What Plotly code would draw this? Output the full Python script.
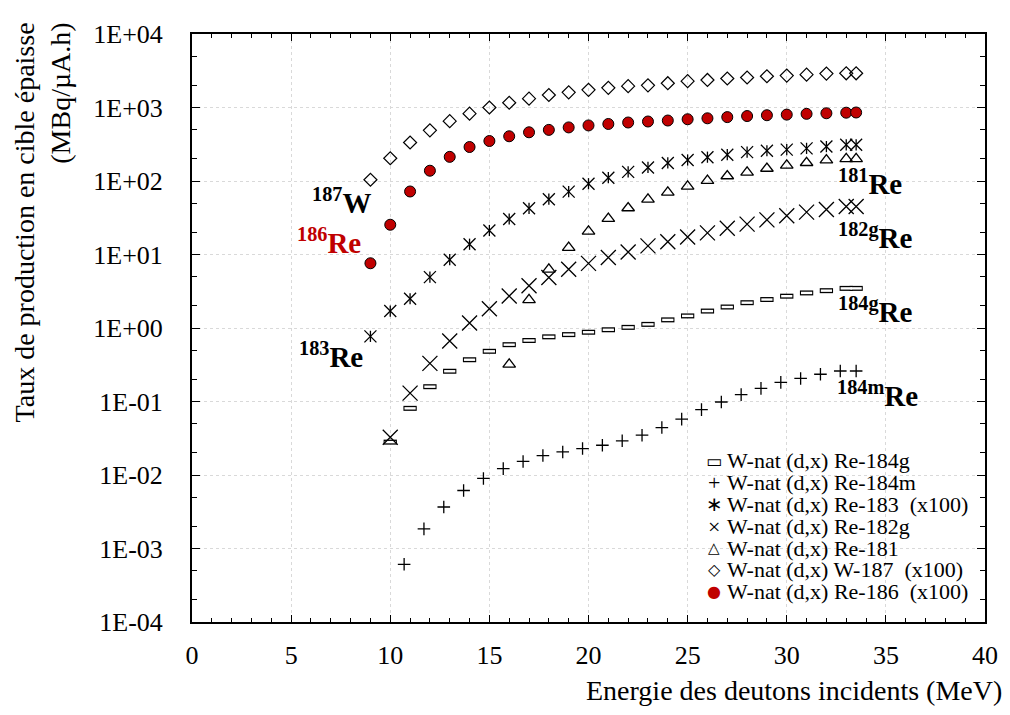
import plotly.graph_objects as go

# ---------------- data ----------------
energy = [9, 10, 11, 12, 13, 14, 15, 16, 17, 18, 19, 20, 21, 22, 23, 24, 25,
          26, 27, 28, 29, 30, 31, 32, 33, 33.5]
energy_from10 = energy[1:]
energy_from16 = energy[7:]
energy_184m = [10.7, 11.7, 12.7, 13.7, 14.7, 15.7, 16.7, 17.7, 18.7, 19.7, 20.7,
               21.7, 22.7, 23.7, 24.7, 25.7, 26.7, 27.7, 28.7, 29.7, 30.7, 31.7,
               32.7, 33.5]

re184g = [0.028, 0.0807, 0.159, 0.258, 0.370, 0.482, 0.593, 0.676, 0.758, 0.813,
          0.876, 0.946, 1.02, 1.12, 1.29, 1.46, 1.70, 1.93, 2.21, 2.44, 2.71,
          3.00, 3.22, 3.46, 3.46]
re184m = [0.00061, 0.00185, 0.00367, 0.00615, 0.00898, 0.0122, 0.0153, 0.0184,
          0.0206, 0.0229, 0.0254, 0.0292, 0.0348, 0.0442, 0.0575, 0.0776, 0.0984,
          0.124, 0.151, 0.182, 0.206, 0.235, 0.260, 0.260]
re183_x100 = [0.77, 1.70, 2.50, 4.92, 8.5, 13.8, 21.2, 30.4, 42.5, 56.6, 71.7,
              91.8, 111, 133, 153, 176, 193, 211, 228, 247, 258, 267, 278, 294,
              311, 311]
re182g = [0.0327, 0.130, 0.330, 0.666, 1.17, 1.83, 2.72, 3.76, 4.86, 6.29, 7.57,
          9.10, 10.8, 13.1, 14.9, 17.3, 19.7, 22.7, 25.9, 29.6, 33.7, 37.7, 40.9,
          44.9, 44.9]
re181 = [0.32, 2.41, 6.29, 12.4, 20.7, 30.8, 42.9, 56.2, 70.2, 84.4, 101, 117,
         131, 148, 163, 177, 192, 200, 200]
w187_x100 = [104, 204, 334, 489, 651, 825, 1000, 1160, 1320, 1480, 1610, 1740,
             1850, 1950, 2000, 2140, 2280, 2370, 2480, 2560, 2660, 2720, 2800,
             2890, 2920, 2920]
re186_x100 = [7.6, 25.4, 72, 138, 213, 290, 350, 406, 460, 496, 536, 570, 597,
              625, 645, 665, 692, 713, 740, 765, 785, 800, 820, 835, 850, 855]

y_tick_vals = [1e-4, 1e-3, 1e-2, 1e-1, 1e0, 1e1, 1e2, 1e3, 1e4]
y_tick_text = ["1E-04", "1E-03", "1E-02", "1E-01", "1E+00", "1E+01", "1E+02",
               "1E+03", "1E+04"]

legend_names = ["W-nat (d,x) Re-184g",
                "W-nat (d,x) Re-184m",
                "W-nat (d,x) Re-183 \u00a0(x100)",
                "W-nat (d,x) Re-182g",
                "W-nat (d,x) Re-181",
                "W-nat (d,x) W-187 \u00a0(x100)",
                "W-nat (d,x) Re-186 \u00a0(x100)"]
legend_glyphs = ["\u25ad", "+", "\u2217", "\u00d7", "\u25b3", "\u25c7", "\u25cf"]

RED = "#C00000"
FONT = "Liberation Serif, Times New Roman, serif"
SYMFONT = "DejaVu Sans"

fig = go.Figure()

# Re-184g : outlined horizontal bar (black bar + white core)
fig.add_trace(go.Scatter(x=energy_from10, y=re184g, mode="markers",
                         name=legend_names[0],
                         marker=dict(symbol="line-ew", size=9.5,
                                     line=dict(width=5, color="black"))))
fig.add_trace(go.Scatter(x=energy_from10, y=re184g, mode="markers",
                         hoverinfo="skip",
                         marker=dict(symbol="line-ew", size=8,
                                     line=dict(width=2.4, color="white"))))
# Re-184m : thin plus
fig.add_trace(go.Scatter(x=energy_184m, y=re184m, mode="markers",
                         name=legend_names[1],
                         marker=dict(symbol="cross-thin", size=9,
                                     line=dict(width=1.3, color="black"))))
# Re-183 : X + vertical stroke (asterisk)
fig.add_trace(go.Scatter(x=energy, y=re183_x100, mode="markers",
                         name=legend_names[2],
                         marker=dict(symbol="x-thin", size=12,
                                     line=dict(width=1.3, color="black"))))
fig.add_trace(go.Scatter(x=energy, y=re183_x100, mode="markers",
                         hoverinfo="skip",
                         marker=dict(symbol="line-ns", size=8,
                                     line=dict(width=1.3, color="black"))))
# Re-182g : thin X
fig.add_trace(go.Scatter(x=energy_from10, y=re182g, mode="markers",
                         name=legend_names[3],
                         marker=dict(symbol="x-thin", size=15,
                                     line=dict(width=1.3, color="black"))))
# Re-181 : open triangle
fig.add_trace(go.Scatter(x=energy_from16, y=re181, mode="markers",
                         name=legend_names[4],
                         marker=dict(symbol="triangle-up-open", size=11,
                                     color="black", line=dict(width=1.3))))
# W-187 : open diamond
fig.add_trace(go.Scatter(x=energy, y=w187_x100, mode="markers",
                         name=legend_names[5],
                         marker=dict(symbol="diamond-open", size=10,
                                     color="black", line=dict(width=1.2))))
# Re-186 : red filled circle
fig.add_trace(go.Scatter(x=energy, y=re186_x100, mode="markers",
                         name=legend_names[6],
                         marker=dict(symbol="circle", size=11, color=RED,
                                     line=dict(width=1, color="black"))))

# ---------------- geometry of plot area (page pixels) ----------------
OFF = 8                       # page body margin
L, T, W, H = 192, 24, 794, 598
FIG_W, FIG_H = 1010 - OFF, 715 - OFF


def px(xp, yp):
    return (xp - L) / W, (T + H - yp) / H


labels = [
    ("<b><sup>187</sup>W</b>", 310, 194, "black"),
    ("<b><sup>186</sup>Re</b>", 295, 235, RED),
    ("<b><sup>183</sup>Re</b>", 297, 350, "black"),
    ("<b><sup>181</sup>Re</b>", 837, 175, "black"),
    ("<b><sup>182g</sup>Re</b>", 837, 229, "black"),
    ("<b><sup>184g</sup>Re</b>", 837, 305, "black"),
    ("<b><sup>184m</sup>Re</b>", 836, 390, "black"),
]
for txt, x0, y0, col in labels:
    xp, yp = px(x0, y0)
    fig.add_annotation(text=txt, x=xp, y=yp, xref="paper", yref="paper",
                       xanchor="left", yanchor="middle", showarrow=False,
                       font=dict(family=FONT, size=29, color=col))

# ---------------- legend (text + symbol glyphs) ----------------
leg_top, leg_step = 458, 22.2
glyph_sizes = [17, 22, 20, 22, 15, 16, 16]
glyph_fonts = [SYMFONT, FONT, SYMFONT, FONT, SYMFONT, SYMFONT, SYMFONT]
glyph_cols = ["black"] * 6 + [RED]
for i, name in enumerate(legend_names):
    yrow = leg_top + i * leg_step
    xp, yp = px(726, yrow)
    fig.add_annotation(text=name, x=xp, y=yp, xref="paper", yref="paper",
                       xanchor="left", yanchor="middle", showarrow=False,
                       font=dict(family=FONT, size=22, color="black"))
    xp, yp = px(715, yrow)
    fig.add_annotation(text=legend_glyphs[i], x=xp, y=yp, xref="paper",
                       yref="paper", xanchor="center", yanchor="middle",
                       showarrow=False,
                       font=dict(family=glyph_fonts[i], size=glyph_sizes[i],
                                 color=glyph_cols[i]))

# axis titles
xp, yp = px(1005, 692)
fig.add_annotation(text="Energie des deutons incidents (MeV)", x=xp, y=yp,
                   xref="paper", yref="paper", xanchor="right", yanchor="middle",
                   showarrow=False, font=dict(family=FONT, size=28, color="black"))
xp, yp = px(42, 10)
fig.add_annotation(text="Taux de production en cible épaisse<br>(MBq/µA.h)",
                   x=xp, y=yp, xref="paper", yref="paper", xanchor="center",
                   yanchor="top", textangle=-90, align="right", showarrow=False,
                   font=dict(family=FONT, size=28, color="black"))

fig.update_layout(
    width=FIG_W, height=FIG_H,
    margin=dict(l=L - OFF, r=FIG_W - (L - OFF) - W, t=T - OFF,
                b=FIG_H - (T - OFF) - H),
    paper_bgcolor="white", plot_bgcolor="white",
    font=dict(family=FONT, size=26, color="black"),
    showlegend=False,
    xaxis=dict(range=[0, 40], dtick=5, tick0=0, showline=True, linewidth=2,
               linecolor="black", mirror="allticks", ticks="inside",
               ticklen=7, tickwidth=1, tickcolor="black",
               showgrid=True, gridcolor="#d9d9d9", griddash="dot", gridwidth=1,
               zeroline=False, ticklabelstandoff=9,
               tickfont=dict(family=FONT, size=26, color="black"),
               minor=dict(dtick=1, ticks="inside", ticklen=4,
                          tickcolor="black", showgrid=False)),
    yaxis=dict(type="log", range=[-4, 4], tickmode="array",
               tickvals=y_tick_vals, ticktext=y_tick_text,
               showline=True, linewidth=2, linecolor="black",
               mirror="allticks", ticks="inside", ticklen=8, tickwidth=1,
               tickcolor="black", showgrid=True, gridcolor="#d9d9d9",
               griddash="dot", gridwidth=1, zeroline=False,
               ticklabelstandoff=22,
               tickfont=dict(family=FONT, size=26, color="black"),
               minor=dict(ticks="inside", ticklen=5, tickcolor="black",
                          showgrid=False)),
)

fig.write_html("out.html")
